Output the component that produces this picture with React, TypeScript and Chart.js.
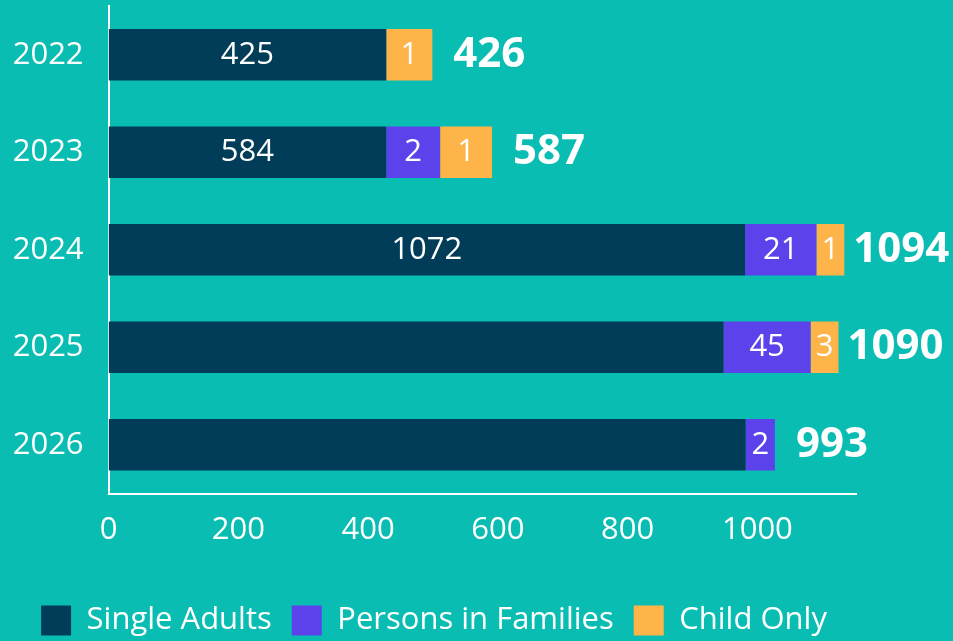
import React, { useEffect, useRef } from "react";
import { Chart, registerables } from "chart.js";

Chart.register(...registerables);

// Categories
const years = ["2022", "2023", "2024", "2025", "2026"];
// Segment lengths
const singleAdults = [428, 428, 981, 948, 982];
const personsInFamilies = [0, 83, 110, 134, 45];
const childOnly = [71, 80, 43, 43, 0];
// Printed counts inside the segments
const singleAdultsLabels = ["425", "584", "1072", "", ""];
const familiesLabels = ["", "2", "21", "45", "2"];
const childLabels = ["1", "1", "1", "3", ""];
// Printed totals
const totals = ["426", "587", "1094", "1090", "993"];
// Value-axis ticks
const xTicks = [0, 200, 400, 600, 800, 1000];
const xMax = 1152;

const BG = "#0abdb2";
const NAVY = "#013d59";
const PURPLE = "#5b42ea";
const ORANGE = "#ffb449";
const FONT = "'Open Sans', 'Noto Sans', sans-serif";
const CANVAS_H = 646;

const segmentLabels = [singleAdultsLabels, familiesLabels, childLabels];

const labelPlugin = {
  id: "barLabels",
  afterDatasetsDraw(chart: any) {
    const ctx = chart.ctx;
    ctx.save();
    ctx.fillStyle = "#ffffff";
    ctx.textAlign = "center";
    ctx.textBaseline = "middle";
    const ends: number[] = [];
    chart.data.datasets.forEach((_ds: any, di: number) => {
      const meta = chart.getDatasetMeta(di);
      meta.data.forEach((el: any, i: number) => {
        const props = el.getProps(["x", "y", "base"], true);
        const v = chart.data.datasets[di].data[i];
        if (v > 0) ends[i] = Math.max(ends[i] ?? 0, props.x);
        const txt = segmentLabels[di][i];
        if (txt) {
          ctx.font = `400 31px ${FONT}`;
          ctx.fillText(txt, (props.x + props.base) / 2, props.y);
        }
      });
    });
    const meta0 = chart.getDatasetMeta(0);
    meta0.data.forEach((el: any, i: number) => {
      ctx.font = `700 42px ${FONT}`;
      ctx.fillText(totals[i], ends[i] + 57, el.y);
    });
    ctx.restore();
  },
};

export default function App() {
  const ref = useRef<HTMLCanvasElement | null>(null);
  useEffect(() => {
    if (!ref.current) return;
    const chart = new Chart(ref.current, {
      type: "bar",
      data: {
        labels: years,
        datasets: [
          { label: "Single Adults", data: singleAdults, backgroundColor: NAVY, borderWidth: 0 },
          { label: "Persons in Families", data: personsInFamilies, backgroundColor: PURPLE, borderWidth: 0 },
          { label: "Child Only", data: childOnly, backgroundColor: ORANGE, borderWidth: 0 },
        ],
      },
      options: {
        indexAxis: "y",
        animation: false,
        responsive: false,
        events: [],
        datasets: { bar: { categoryPercentage: 1, barPercentage: 0.53 } },
        layout: { padding: { top: 6, right: 97, left: 12, bottom: 0 } },
        plugins: {
          tooltip: { enabled: false },
          legend: {
            position: "bottom",
            labels: {
              color: "#ffffff",
              boxWidth: 30,
              boxHeight: 30,
              padding: 20,
              font: { family: FONT, size: 31 },
            },
          },
        },
        scales: {
          x: {
            stacked: true,
            min: 0,
            max: xMax,
            grid: { display: false, drawTicks: false },
            border: { display: true, color: "#ffffff", width: 2 },
            afterBuildTicks: (s: any) => {
              s.ticks = xTicks.map((v) => ({ value: v }));
            },
            ticks: {
              color: "#ffffff",
              padding: 18,
              font: { family: FONT, size: 31 },
              callback: (v: any) => String(v),
              maxRotation: 0,
            },
            afterFit: (s: any) => {
              const lh = s.chart.legend ? s.chart.legend.height : 0;
              s.height = CANVAS_H - 493.5 - lh;
            },
          },
          y: {
            stacked: true,
            grid: { display: false, drawTicks: false },
            border: { display: true, color: "#ffffff", width: 2 },
            ticks: {
              color: "#ffffff",
              padding: 25,
              font: { family: FONT, size: 31 },
            },
            afterFit: (s: any) => {
              s.width = 96.6;
              s.paddingTop = 0;
              s.paddingBottom = 0;
            },
          },
        },
      },
      plugins: [labelPlugin],
    });
    return () => chart.destroy();
  }, []);
  return (
    <div style={{ position: "absolute", left: 0, top: 0, width: 953, height: 641, overflow: "hidden", background: BG }}>
      <canvas ref={ref} width={953} height={CANVAS_H} style={{ display: "block" }} />
    </div>
  );
}
